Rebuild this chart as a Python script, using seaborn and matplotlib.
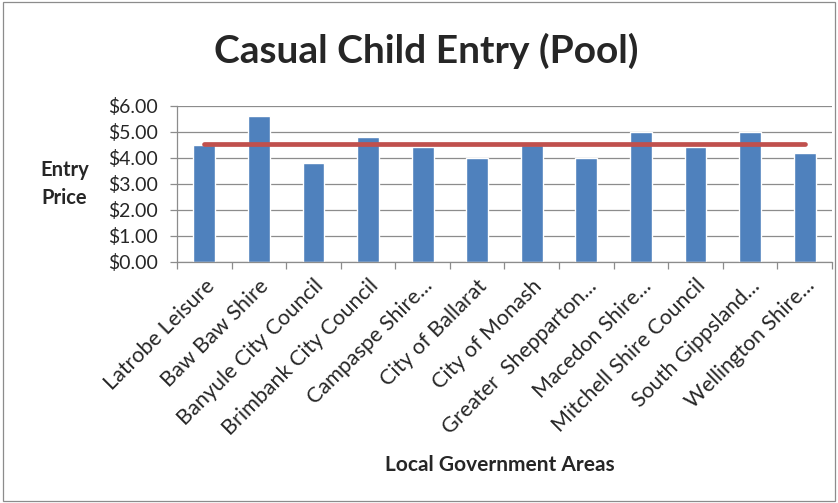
import numpy as np
import pandas as pd
import matplotlib.pyplot as plt
import seaborn as sns
from matplotlib.patches import Rectangle
from matplotlib.ticker import FuncFormatter, FixedLocator

AREAS = ["Latrobe Leisure", "Baw Baw Shire", "Banyule City Council",
         "Brimbank City Council", "Campaspe Shire...", "City of Ballarat",
         "City of Monash", "Greater  Shepparton...", "Macedon Shire...",
         "Mitchell Shire Council", "South Gippsland...", "Wellington Shire..."]
PRICES = [4.50, 5.60, 3.80, 4.80, 4.40, 4.00, 4.50, 4.00, 5.00, 4.40, 5.00, 4.20]
AVERAGE = [4.51] * 12

BAR_COLOR = "#4F81BD"
LINE_COLOR = "#C0504D"

sns.set_theme(style="white")
plt.rcParams["font.family"] = ["Lato", "DejaVu Sans"]

df = pd.DataFrame({"area": AREAS, "price": PRICES, "avg": AVERAGE})

fig = plt.figure(figsize=(8.38, 5.03), dpi=100)
ax = fig.add_axes([0.2112, 0.4797, 0.7816, 0.3101])

sns.barplot(data=df, x="area", y="price", color=BAR_COLOR, width=0.4,
            saturation=1, ax=ax, zorder=2)
ax.plot(np.arange(len(df)), df["avg"], color=LINE_COLOR, lw=3.4,
        solid_capstyle="round", zorder=3)

ax.set_ylim(0, 6)
ax.set_xlim(-0.5, len(df) - 0.5)
ax.set_yticks(np.arange(0, 6.01, 1))
ax.yaxis.set_major_formatter(FuncFormatter(lambda v, _: f"${v:.2f}"))
ax.grid(axis="y", color="#8c8c8c", lw=0.9, zorder=0)
ax.set_axisbelow(True)

ax.set_xticks(np.arange(len(df)))
ax.set_xticklabels(AREAS, rotation=45, ha="right", rotation_mode="anchor",
                   fontsize=15.5)
ax.xaxis.set_minor_locator(FixedLocator(np.arange(-0.5, len(df), 1)))
ax.tick_params(axis="x", which="major", length=0, pad=10)
ax.tick_params(axis="x", which="minor", length=5, width=0.9,
               color="#8c8c8c", direction="out", bottom=True)
ax.tick_params(axis="y", length=5, width=0.9, color="#8c8c8c",
               direction="out", left=True, labelsize=14, pad=9)

for side in ["top", "right"]:
    ax.spines[side].set_visible(False)
for side in ["left", "bottom"]:
    ax.spines[side].set_color("#8c8c8c")
    ax.spines[side].set_linewidth(0.9)

ax.set_xlabel("")
ax.set_ylabel("")
fig.text(0.509, 0.898, "Casual Child Entry (Pool)", ha="center", va="center",
         fontsize=28, fontweight="bold")
fig.text(0.077, 0.634, "Entry\nPrice", ha="center", va="center",
         fontsize=14.5, fontweight="bold", linespacing=1.45)
fig.text(0.597, 0.0755, "Local Government Areas", ha="center", va="center",
         fontsize=15, fontweight="bold")

fig.patches.append(Rectangle((0.003, 0.004), 0.994, 0.992,
                             transform=fig.transFigure, fill=False,
                             edgecolor="#8c8c8c", lw=0.9))

fig.savefig("out.png", dpi=100)
